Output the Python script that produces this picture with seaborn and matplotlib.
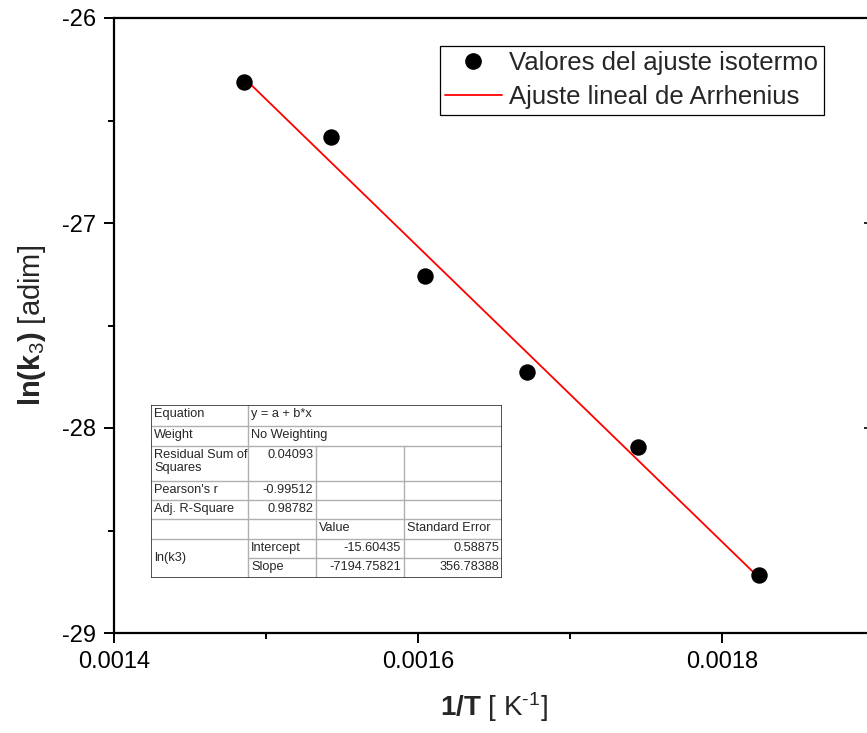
import matplotlib
matplotlib.use("Agg")
import matplotlib.pyplot as plt
import seaborn as sns
import numpy as np
import pandas as pd
from matplotlib.ticker import MultipleLocator
from matplotlib.lines import Line2D

# ---- data ----
inv_T = [0.0014856, 0.0015428, 0.0016047, 0.0016718, 0.0017447, 0.0018243]
ln_k3 = [-26.312, -26.580, -27.260, -27.725, -28.093, -28.719]
fit_intercept = -15.60435
fit_slope = -7194.75821

x_ticks = [0.0014, 0.0016, 0.0018]
y_ticks = [-29, -28, -27, -26]

table_rows = [
    ["Equation", "y = a + b*x", "", ""],
    ["Weight", "No Weighting", "", ""],
    ["Residual Sum of\nSquares", "0.04093", "", ""],
    ["Pearson's r", "-0.99512", "", ""],
    ["Adj. R-Square", "0.98782", "", ""],
    ["", "", "Value", "Standard Error"],
    ["ln(k3)", "Intercept", "-15.60435", "0.58875"],
    ["", "Slope", "-7194.75821", "356.78388"],
]

legend_labels = ["Valores del ajuste isotermo", "Ajuste lineal de Arrhenius"]

# ---- style ----
sns.set_style("ticks")
plt.rcParams["font.family"] = ["Liberation Sans", "DejaVu Sans"]
plt.rcParams["mathtext.fontset"] = "custom"
plt.rcParams["mathtext.rm"] = "Liberation Sans"
plt.rcParams["mathtext.bf"] = "Liberation Sans:bold"
plt.rcParams["mathtext.it"] = "Liberation Sans:italic"

W, H = 867, 733
fig = plt.figure(figsize=(W / 100, H / 100), dpi=100)
ax = fig.add_axes([114 / W, 1 - 633 / H, (874 - 114) / W, (633 - 18) / H])

df = pd.DataFrame({"x": inv_T, "y": ln_k3})
xfit = np.array([min(inv_T), max(inv_T)])
dfl = pd.DataFrame({"x": xfit, "y": fit_intercept + fit_slope * xfit})

sns.lineplot(data=dfl, x="x", y="y", ax=ax, color="#ff0000", lw=1.3, zorder=2)
sns.scatterplot(data=df, x="x", y="y", ax=ax, color="black", s=140,
                edgecolor="black", linewidth=0, zorder=3)

ax.set_xlim(0.0014, 0.0019)
ax.set_ylim(-29, -26)
ax.set_xticks(x_ticks)
ax.set_xticklabels([f"{v:.4f}" for v in x_ticks])
ax.set_yticks(y_ticks)
ax.set_yticklabels([f"{v:d}" for v in y_ticks])
ax.xaxis.set_minor_locator(MultipleLocator(0.0001))
ax.yaxis.set_minor_locator(MultipleLocator(0.5))

for s in ax.spines.values():
    s.set_visible(True)
    s.set_color("black")
    s.set_linewidth(1.6)

ax.tick_params(axis="both", which="major", direction="out", length=7,
               width=1.4, labelsize=17, color="black", labelcolor="black",
               bottom=True, left=True, top=False, right=False)
ax.tick_params(axis="both", which="minor", direction="out", length=4,
               width=1.4, color="black", bottom=True, left=True, top=False, right=False)
ax.tick_params(axis="x", which="major", pad=6)
ax.tick_params(axis="y", which="major", pad=6)

# right side inward ticks
ax_r = ax.secondary_yaxis("right")
ax_r.set_yticks(y_ticks)
ax_r.tick_params(axis="y", direction="in", length=7, width=1.4, labelright=False)
ax_r.yaxis.set_minor_locator(MultipleLocator(0.5))
ax_r.tick_params(axis="y", which="minor", length=0)

ax.set_xlabel(r"$\mathbf{1/T}$ [ K$^{\text{-}1}$]", fontsize=20, labelpad=12)
ax.set_ylabel(r"$\mathbf{ln(k}_{3}\mathbf{)}$ [adim]", fontsize=21, labelpad=10)

# legend
handles = [
    Line2D([], [], marker="o", ls="none", color="black", markersize=11),
    Line2D([], [], color="#ff0000", lw=1.3),
]
leg = ax.legend(handles, legend_labels, loc="upper left",
                bbox_to_anchor=(440 / W, 1 - 46 / H), bbox_transform=fig.transFigure,
                fontsize=18.5, frameon=True, fancybox=False, framealpha=1,
                borderpad=0.2, handlelength=2.2, handletextpad=0.3,
                labelspacing=0.4, borderaxespad=0)
leg.get_frame().set_edgecolor("black")
leg.get_frame().set_linewidth(0.9)

# ---- fit table (inset axes in pixel units) ----
tx0, ty0, tx1, ty1 = 151, 405, 502, 578
tax = fig.add_axes([tx0 / W, 1 - ty1 / H, (tx1 - tx0) / W, (ty1 - ty0) / H])
tax.set_xlim(0, tx1 - tx0)
tax.set_ylim(ty1 - ty0, 0)
tax.axis("off")
tax.patch.set_alpha(0)

col_x = [0, 97, 165, 253, 351]
row_y = [0, 21, 41, 76, 95, 114, 134, 153, 173]
gray = "#b0b0b0"
tax.add_patch(plt.Rectangle((0, 0), 351, 173, facecolor="white", edgecolor="none", zorder=0))
for i, yy in enumerate(row_y[1:-1], start=1):
    if i == 7:
        tax.plot([col_x[1], col_x[4]], [yy, yy], color=gray, lw=1, zorder=1)
    else:
        tax.plot([col_x[0], col_x[4]], [yy, yy], color=gray, lw=1, zorder=1)
tax.plot([col_x[1], col_x[1]], [0, 173], color=gray, lw=1, zorder=1)
for cx in col_x[2:4]:
    tax.plot([cx, cx], [row_y[2], 173], color=gray, lw=1, zorder=1)
tax.add_patch(plt.Rectangle((0, 0), 351, 173, facecolor="none", edgecolor="#333333", lw=1.2, zorder=2))

fs = 9.2
for r, row in enumerate(table_rows):
    ytop = row_y[r]
    for c, txt in enumerate(row):
        if not txt:
            continue
        if r == 6 and c == 0:
            tax.text(col_x[0] + 3, (row_y[6] + row_y[8]) / 2, txt, fontsize=fs,
                     va="center", ha="left")
            continue
        if r in (0, 1) and c == 1:
            tax.text(col_x[1] + 3, ytop + 3, txt, fontsize=fs, va="top", ha="left")
            continue
        if c == 0 or (c == 1 and r >= 5) or (r == 5):
            tax.text(col_x[c] + 3, ytop + 3, txt, fontsize=fs, va="top", ha="left",
                     linespacing=1.1)
        else:
            tax.text(col_x[c + 1] - 3, ytop + 3, txt, fontsize=fs, va="top", ha="right")

fig.savefig("out.png", dpi=100)
